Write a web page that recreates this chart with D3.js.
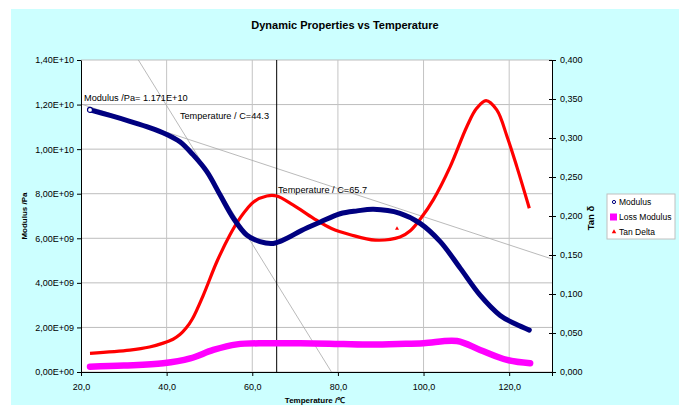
<!DOCTYPE html>
<html>
<head>
<meta charset="utf-8">
<script src="https://cdn.jsdelivr.net/npm/d3@7"></script>
<style>
    body { margin: 0; background: #fff; }
    svg { display: block; font-family: "Liberation Sans", Arial, sans-serif; }
</style>
</head>
<body>
<div id="chart"></div>
<script>
// temperatures (C) and values
var modTemp = [22.1, 27.0, 31.4, 36.0, 39.9, 43.1, 46.2, 49.4, 52.5, 55.6, 58.7, 61.8, 64.9, 68.1, 71.5, 75.8, 80.5, 84.5, 88.3, 94.5, 99.2, 103.9, 108.6, 113.2, 117.9, 121.5, 124.7];
var modulus = [1.176e10, 1.15e10, 1.125e10, 1.097e10, 1.067e10, 1.033e10, 9.74e9, 8.99e9, 7.94e9, 6.9e9, 6.15e9, 5.85e9, 5.77e9, 6.0e9, 6.35e9, 6.72e9, 7.1e9, 7.23e9, 7.3e9, 7.12e9, 6.67e9, 5.85e9, 4.65e9, 3.45e9, 2.54e9, 2.15e9, 1.88e9];

var lossTemp = [22.1, 30.0, 39.2, 45.5, 50.9, 56.4, 63.4, 71.2, 78.0, 86.8, 94.0, 100.0, 107.8, 113.2, 119.5, 124.9];
var lossModulus = [2.4e8, 2.9e8, 3.9e8, 6.1e8, 9.9e8, 1.24e9, 1.29e9, 1.29e9, 1.27e9, 1.23e9, 1.26e9, 1.29e9, 1.39e9, 9.9e8, 5.4e8, 3.9e8];

var tanTemp = [22.1, 31.4, 36.0, 39.2, 41.5, 43.1, 44.5, 46.0, 48.6, 51.7, 54.8, 57.1, 60.3, 63.4, 65.7, 69.6, 74.3, 78.5, 82.9, 88.7, 94.5, 96.9, 99.5, 102.3, 106.2, 110.1, 112.4, 114.6, 117.1, 119.5, 121.8, 124.7];
var tanDelta = [0.024, 0.028, 0.032, 0.037, 0.042, 0.048, 0.056, 0.068, 0.099, 0.141, 0.176, 0.197, 0.218, 0.2256, 0.2256, 0.214, 0.197, 0.184, 0.176, 0.169, 0.173, 0.181, 0.198, 0.221, 0.263, 0.3145, 0.338, 0.348, 0.336, 0.302, 0.263, 0.210];
var tanOutlier = [{t: 93.8, v: 0.184}];

// tangent construction lines (temperature, modulus)
var tangentA = [[33.4, 1.4e10], [78.5, 0]];
var tangentB = [[20, 1.2025e10], [130, 5.07e9]];
var markerTemp = 65.7;

var notes = [
    {t: 20.7, v: 1.215e10, text: 'Modulus /Pa= 1.171E+10'},
    {t: 43.1, v: 1.135e10, text: 'Temperature / C=44.3'},
    {t: 66.0, v: 8.05e9, text: 'Temperature / C=65.7'}
];

var xTicks = [20, 40, 60, 80, 100, 120];
var yTicks = [0, 2e9, 4e9, 6e9, 8e9, 1e10, 1.2e10, 1.4e10];
var y2Ticks = [0, 0.05, 0.1, 0.15, 0.2, 0.25, 0.3, 0.35, 0.4];

var series = [
    {name: 'Modulus', color: '#000080'},
    {name: 'Loss Modulus', color: '#ff00ff'},
    {name: 'Tan Delta', color: '#ff0000'}
];

function zip(a, b) {
    return a.map(function (d, i) { return {t: d, v: b[i]}; });
}

function sciFmt(v) {
    var s = v.toExponential(2).split('e');
    var e = parseInt(s[1], 10);
    var sign = e < 0 ? '-' : '+';
    e = Math.abs(e);
    return s[0].replace('.', ',') + 'E' + sign + (e < 10 ? '0' + e : e);
}

function drawChart() {
    var W = 681, H = 405;
    var margin = {top: 60, right: 129, bottom: 33, left: 81},
        width = W - margin.left - margin.right,
        height = H - margin.top - margin.bottom;

    var svg = d3.select('#chart').append('svg')
        .attr('width', W)
        .attr('height', H);

    svg.append('rect')
        .attr('x', 11).attr('y', 9)
        .attr('width', 668).attr('height', 396)
        .attr('fill', '#ccffff');

    svg.append('text')
        .attr('x', 345).attr('y', 29)
        .attr('text-anchor', 'middle')
        .style('font-size', '11px')
        .style('font-weight', 'bold')
        .text('Dynamic Properties vs Temperature');

    var g = svg.append('g')
        .attr('transform', 'translate(' + margin.left + ',' + margin.top + ')');

    var x = d3.scaleLinear().domain([20, 130]).range([0, width]);
    var y = d3.scaleLinear().domain([0, 1.4e10]).range([height, 0]);
    var y2 = d3.scaleLinear().domain([0, 0.4]).range([height, 0]);

    g.append('rect')
        .attr('width', width).attr('height', height)
        .attr('fill', '#fff');

    // grid
    g.selectAll('.hgrid').data(yTicks).enter().append('line')
        .attr('x1', 0).attr('x2', width)
        .attr('y1', function (d) { return y(d); })
        .attr('y2', function (d) { return y(d); })
        .attr('stroke', '#bdbdbd').attr('stroke-width', 1);
    g.selectAll('.vgrid').data(xTicks.slice(1)).enter().append('line')
        .attr('y1', 0).attr('y2', height)
        .attr('x1', function (d) { return x(d); })
        .attr('x2', function (d) { return x(d); })
        .attr('stroke', '#c4c4c4').attr('stroke-width', 1);

    // tangent lines
    var tline = d3.line()
        .x(function (d) { return x(d[0]); })
        .y(function (d) { return y(d[1]); });
    [tangentA, tangentB].forEach(function (t) {
        g.append('path').attr('d', tline(t))
            .attr('fill', 'none').attr('stroke', '#a8a8a8').attr('stroke-width', 0.8);
    });

    // marker line
    g.append('line')
        .attr('x1', x(markerTemp)).attr('x2', x(markerTemp))
        .attr('y1', 0).attr('y2', height)
        .attr('stroke', '#000').attr('stroke-width', 1);

    var line = d3.line()
        .x(function (d) { return x(d.t); })
        .y(function (d) { return y(d.v); })
        .curve(d3.curveCatmullRom.alpha(0.5));
    var line2 = d3.line()
        .x(function (d) { return x(d.t); })
        .y(function (d) { return y2(d.v); })
        .curve(d3.curveCatmullRom.alpha(0.5));

    var lossData = zip(lossTemp, lossModulus);
    var modData = zip(modTemp, modulus);
    var tanData = zip(tanTemp, tanDelta);

    g.append('path').attr('d', line(lossData))
        .attr('fill', 'none').attr('stroke', '#ff00ff')
        .attr('stroke-width', 6.5).attr('stroke-linecap', 'round');
    g.append('path').attr('d', line2(tanData))
        .attr('fill', 'none').attr('stroke', '#ff0000')
        .attr('stroke-width', 3.2);
    g.append('path').attr('d', line(modData))
        .attr('fill', 'none').attr('stroke', '#000080')
        .attr('stroke-width', 5).attr('stroke-linecap', 'round');

    g.append('circle')
        .attr('cx', x(modData[0].t)).attr('cy', y(modData[0].v)).attr('r', 2.5)
        .attr('fill', '#fff').attr('stroke', '#000080').attr('stroke-width', 1.2);
    g.selectAll('.outlier').data(tanOutlier).enter().append('path')
        .attr('d', d3.symbol().type(d3.symbolTriangle).size(7))
        .attr('transform', function (d) { return 'translate(' + x(d.t) + ',' + y2(d.v) + ')'; })
        .attr('fill', '#ff0000');

    // annotations
    g.selectAll('.note').data(notes).enter().append('text')
        .attr('x', function (d) { return x(d.t); })
        .attr('y', function (d) { return y(d.v); })
        .style('font-size', '9.2px')
        .text(function (d) { return d.text; });

    // axes
    var xAxis = g.append('g')
        .attr('transform', 'translate(0,' + height + ')')
        .call(d3.axisBottom(x).tickValues(xTicks.concat([130])).tickSize(4).tickSizeOuter(0)
            .tickFormat(function (d) { return d === 130 ? '' : d.toFixed(1).replace('.', ','); }));
    var yAxis = g.append('g')
        .call(d3.axisLeft(y).tickValues(yTicks).tickSize(4).tickSizeOuter(0).tickFormat(sciFmt));
    var y2Axis = g.append('g')
        .attr('transform', 'translate(' + width + ',0)')
        .call(d3.axisRight(y2).tickValues(y2Ticks).tickSize(4).tickSizeOuter(0)
            .tickFormat(function (d) { return d.toFixed(3).replace('.', ','); }));
    y2Axis.selectAll('.tick').append('line').attr('x2', -3).attr('stroke', '#000');

    [xAxis, yAxis, y2Axis].forEach(function (a) {
        a.selectAll('text').style('font-size', '9px').style('font-family', '"Liberation Sans", Arial, sans-serif').attr('fill', '#000');
        a.select('.domain').attr('stroke', '#000');
    });
    xAxis.selectAll('text').attr('dy', '1.2em');
    y2Axis.selectAll('text').attr('x', 8);

    // axis titles
    svg.append('text')
        .attr('transform', 'translate(27,' + (margin.top + height / 2) + ') rotate(-90)')
        .attr('text-anchor', 'middle')
        .style('font-size', '8px').style('font-weight', 'bold')
        .text('Modulus /Pa');
    svg.append('text')
        .attr('transform', 'translate(594,218) rotate(-90)')
        .attr('text-anchor', 'middle')
        .style('font-size', '9.5px').style('font-weight', 'bold')
        .text('Tan \u03b4');
    svg.append('text')
        .attr('x', 315).attr('y', 403)
        .attr('text-anchor', 'middle')
        .style('font-size', '8px').style('font-weight', 'bold')
        .text('Temperature /\u2103');

    // legend
    var lg = svg.append('g').attr('transform', 'translate(607,194)');
    lg.append('rect').attr('width', 68).attr('height', 45)
        .attr('fill', '#fff').attr('stroke', '#c0c0c0');
    var item = lg.selectAll('.item').data(series).enter().append('g')
        .attr('transform', function (d, i) { return 'translate(0,' + (8 + i * 15) + ')'; });
    item.append('text')
        .attr('x', 12).attr('y', 3)
        .style('font-size', '8.5px')
        .text(function (d) { return d.name; });
    item.each(function (d, i) {
        var s = d3.select(this);
        if (i === 0) {
            s.append('circle').attr('cx', 7).attr('cy', 0).attr('r', 1.6)
                .attr('fill', 'none').attr('stroke', d.color).attr('stroke-width', 1);
        } else if (i === 1) {
            s.append('rect').attr('x', 3).attr('y', -3.5).attr('width', 7).attr('height', 7)
                .attr('fill', d.color);
        } else {
            s.append('path').attr('d', d3.symbol().type(d3.symbolTriangle).size(9))
                .attr('transform', 'translate(7,0)').attr('fill', d.color);
        }
    });
}

drawChart();
</script>
</body>
</html>
